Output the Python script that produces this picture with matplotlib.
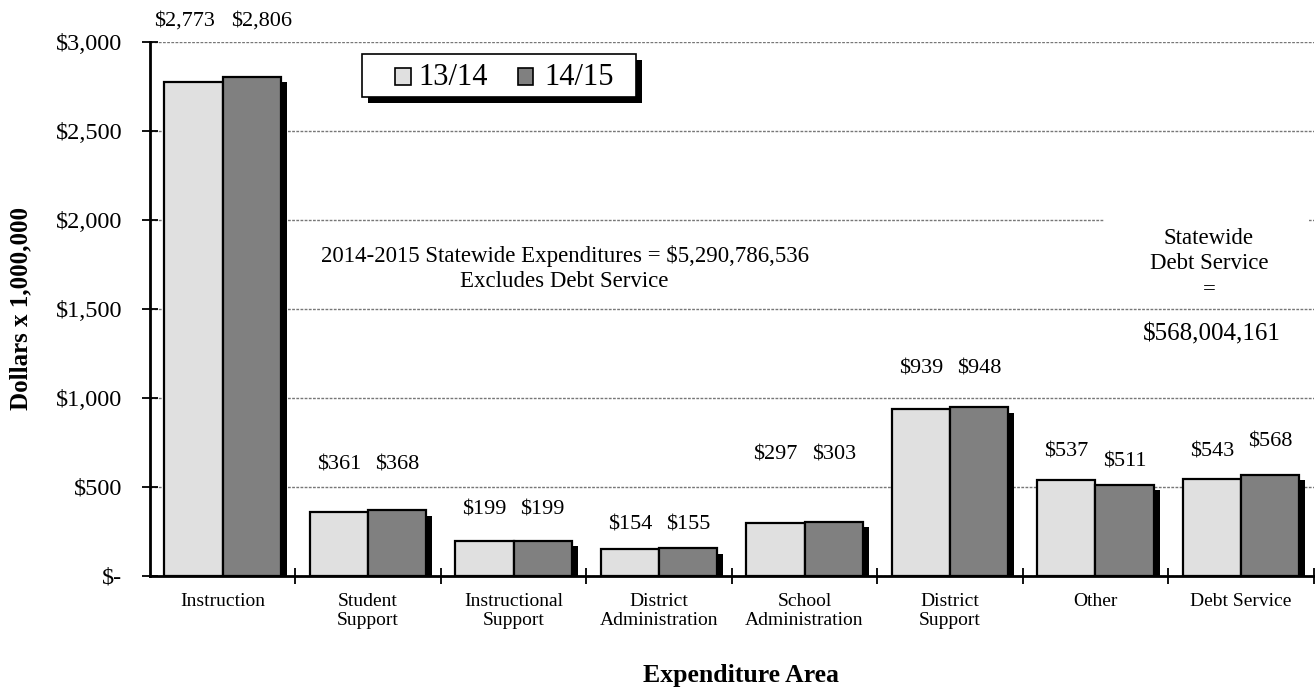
import matplotlib
matplotlib.use("Agg")
import matplotlib.pyplot as plt
import numpy as np
from matplotlib.patches import Rectangle

plt.rcParams['font.family'] = ['Liberation Serif', 'DejaVu Serif']

# ---- data ----
categories = ["Instruction", "Student\nSupport", "Instructional\nSupport",
              "District\nAdministration", "School\nAdministration",
              "District\nSupport", "Other", "Debt Service"]
series_names = ["13/14", "14/15"]
values_1314 = [2773, 361, 199, 154, 297, 939, 537, 543]
values_1415 = [2806, 368, 199, 155, 303, 948, 511, 568]
value_labels_1314 = ["$2,773", "$361", "$199", "$154", "$297", "$939", "$537", "$543"]
value_labels_1415 = ["$2,806", "$368", "$199", "$155", "$303", "$948", "$511", "$568"]
yticks = [0, 500, 1000, 1500, 2000, 2500, 3000]
ytick_labels = ["$-", "$500", "$1,000", "$1,500", "$2,000", "$2,500", "$3,000"]

# ---- layout (label placement as in the original) ----
label_y_1314 = [3120, 625, 370, 285, 680, 1160, 697, 697]
label_y_1415 = [3120, 625, 370, 285, 680, 1160, 640, 753]
label_dx_1314 = [-0.06, 0, 0, 0, 0, 0, 0, 0]
label_dx_1415 = [0.07, 0, 0, 0, 0, 0, 0, 0]

colors = ["#E0E0E0", "#808080"]
fig = plt.figure(figsize=(13.15, 6.87), dpi=100)
ax = fig.add_axes([0.114, 0.1616, 0.885, 0.7773])

x = np.arange(len(categories))
w = 0.4
sdx, sdy = 0.042, 30

# shadows
for vals, off in ((values_1314, -w / 2), (values_1415, w / 2)):
    ax.bar(x + off + sdx, np.array(vals) - sdy, w, color="black", zorder=2, linewidth=0)
ax.bar(x - w / 2, values_1314, w, color=colors[0], edgecolor="black", linewidth=1.6,
       zorder=3, label=series_names[0])
ax.bar(x + w / 2, values_1415, w, color=colors[1], edgecolor="black", linewidth=1.6,
       zorder=3, label=series_names[1])

for i in range(len(categories)):
    ax.text(x[i] - w / 2 + label_dx_1314[i], label_y_1314[i], value_labels_1314[i],
            ha="center", va="center", fontsize=16, clip_on=False)
    ax.text(x[i] + w / 2 + label_dx_1415[i], label_y_1415[i], value_labels_1415[i],
            ha="center", va="center", fontsize=16, clip_on=False)

ax.set_xlim(-0.5, len(categories) - 0.5)
ax.set_ylim(0, 3000)
ax.set_yticks(yticks)
ax.set_yticklabels(ytick_labels, fontsize=17.5)
ax.set_xticks(x)
ax.set_xticklabels(categories, fontsize=14, linespacing=1.2)
ax.set_xticks(np.arange(len(categories)) + 0.5, minor=True)
ax.tick_params(axis="x", which="major", length=0, pad=12)
ax.tick_params(axis="x", which="minor", direction="inout", length=12, width=1.3)
ax.tick_params(axis="y", direction="inout", length=12, width=1.3, pad=14)

for s in ("top", "right"):
    ax.spines[s].set_visible(False)
for s in ("left", "bottom"):
    ax.spines[s].set_linewidth(2)

ax.set_axisbelow(True)
ax.yaxis.grid(True, linestyle=(0, (2, 1)), color="#777777", linewidth=1)

ax.set_ylabel("Dollars x 1,000,000", fontsize=18, fontweight="bold")
ax.yaxis.set_label_coords(-0.101, 0.5)
ax.set_xlabel("Expenditure Area", fontsize=18.5, fontweight="bold")
ax.xaxis.set_label_coords(0.508, -0.165)

# annotations
ax.text(2.35, 1725, "2014-2015 Statewide Expenditures = $5,290,786,536\nExcludes Debt Service",
        ha="center", va="center", fontsize=16.5, linespacing=1.25, zorder=4)
ax.add_patch(Rectangle((6.06, 1880), 1.41, 260, facecolor="white", edgecolor="none", zorder=1))
ax.text(6.78, 1955, "Statewide\nDebt Service\n=", ha="center", va="top", fontsize=16.5,
        linespacing=1.27, zorder=4)
ax.text(6.8, 1355, "$568,004,161", ha="center", va="center", fontsize=18, zorder=4)

# legend (framed box with a solid drop shadow)
tA = ax.transAxes
lx0, lx1, ly0, ly1 = 0.182, 0.418, 0.897, 0.9775
ax.add_patch(Rectangle((lx0 + 0.0052, ly0 - 0.0112), lx1 - lx0, ly1 - ly0, transform=tA,
                       facecolor="black", edgecolor="none", zorder=8, clip_on=False))
ax.add_patch(Rectangle((lx0, ly0), lx1 - lx0, ly1 - ly0, transform=tA, facecolor="white",
                       edgecolor="black", linewidth=1.2, zorder=9, clip_on=False))
mk_x = [0.2106, 0.3159]
tx_x = [0.2309, 0.3390]
for name, col, mx, tx in zip(series_names, colors, mk_x, tx_x):
    ax.add_patch(Rectangle((mx, 0.9195), 0.0137, 0.031, transform=tA, facecolor=col,
                           edgecolor="black", linewidth=1.2, zorder=10, clip_on=False))
    ax.text(tx, 0.9195, name, transform=tA, ha="left", va="baseline", fontsize=22,
            zorder=10)

fig.savefig("out.png", dpi=100)
